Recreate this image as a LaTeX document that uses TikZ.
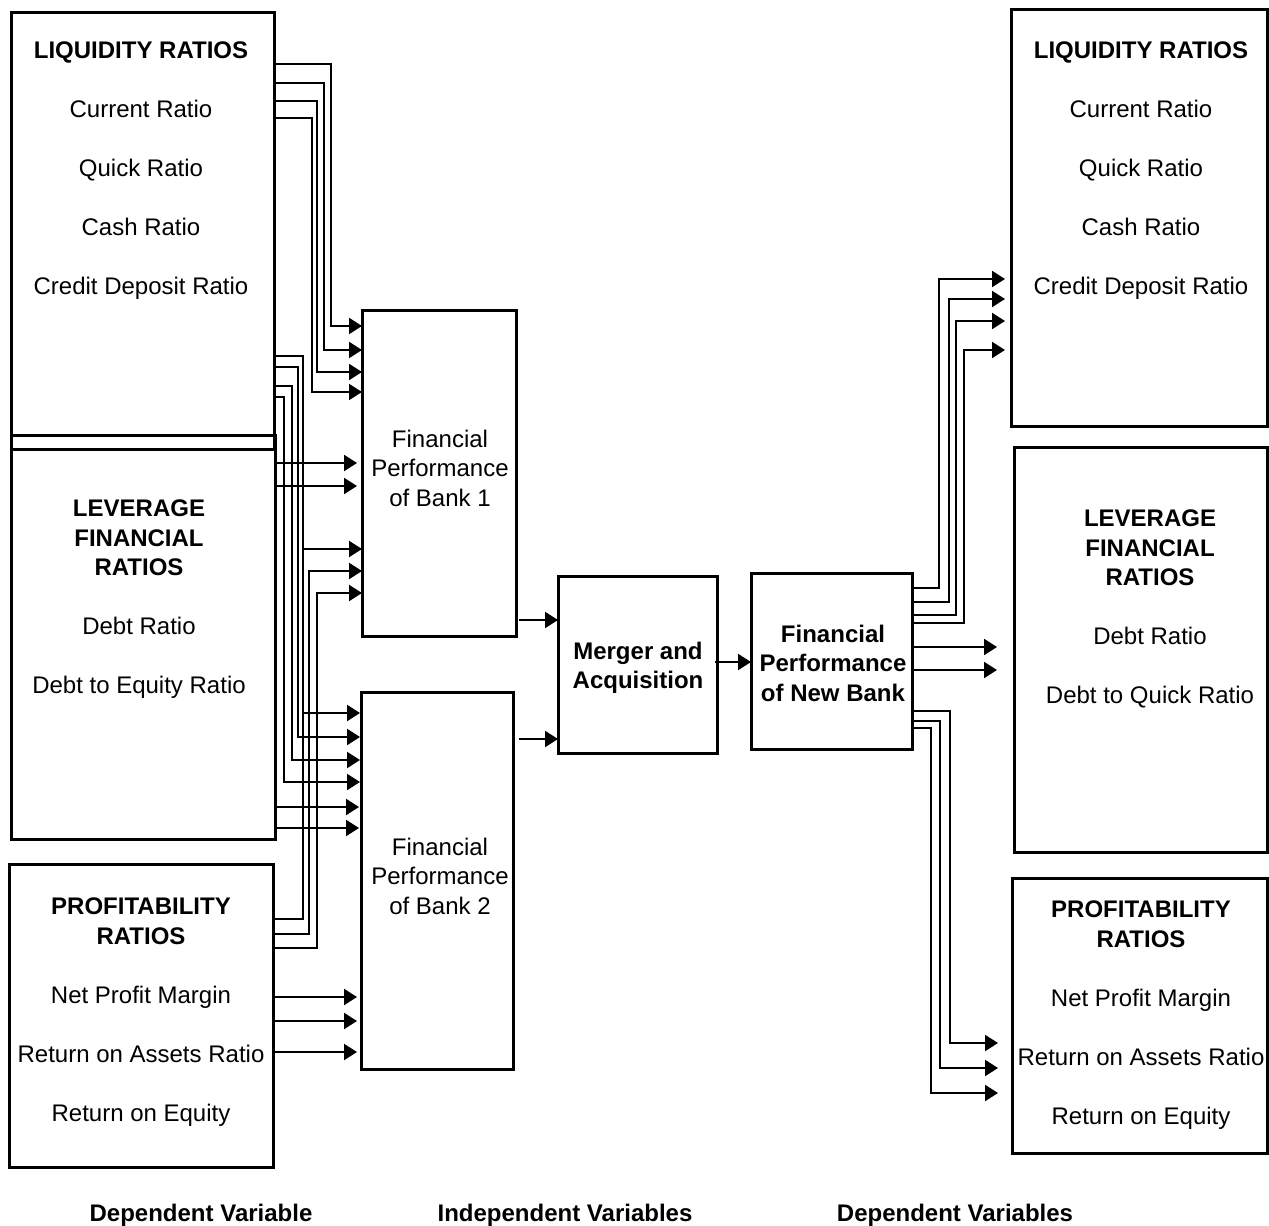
\documentclass[tikz,border=0pt]{standalone}
\usepackage{fontspec}
\setmainfont{Liberation Sans}
\newcommand\hd{\bfseries}
\usetikzlibrary{arrows.meta,fit}

\begin{document}
\begin{tikzpicture}[x=0.5pt,y=-0.5pt,
  box/.style={draw,line width=1.5pt,inner sep=0pt,outer sep=0pt},
  txt/.style={font=\fontsize{12}{14.75}\selectfont,align=center,inner sep=0pt,anchor=north},
  conn/.style={line width=1.1pt,-{Triangle[length=6.5pt,width=8pt]}}]
\useasboundingbox (0,0) rectangle (1269,1226);

% left-hand ratio groups
\node[box,fit={(11,12)(274,449)}] (L1) {};
\node[box,fit={(11,435)(275,839)}] (L2) {};
\node[box,fit={(9,864)(273,1167)}] (L3) {};
% the two banks, the merger, the new bank
\node[box,fit={(362,310)(516,636)}] (B1) {};
\node[box,fit={(361,692)(513,1069)}] (B2) {};
\node[box,fit={(558,576)(717,753)}] (MA) {};
\node[box,fit={(751,573)(912,749)}] (NB) {};
% right-hand ratio groups
\node[box,fit={(1011,9)(1267,426)}] (R1) {};
\node[box,fit={(1014,447)(1267,852)}] (R2) {};
\node[box,fit={(1012,878)(1267,1153)}] (R3) {};

% box texts
\node[txt] (L1t) at (141,41.4) {{\hd LIQUIDITY RATIOS}\\[14.75pt]Current Ratio\\[14.75pt]Quick Ratio\\[14.75pt]Cash Ratio\\[14.75pt]Credit Deposit Ratio};
\node[txt] (L2t) at (139,499.4) {{\hd LEVERAGE}\\{\hd FINANCIAL}\\{\hd RATIOS}\\[14.75pt]Debt Ratio\\[14.75pt]Debt to Equity Ratio};
\node[txt] (L3t) at (141,897.4) {{\hd PROFITABILITY}\\{\hd RATIOS}\\[14.75pt]Net Profit Margin\\[14.75pt]Return on Assets Ratio\\[14.75pt]Return on Equity};
\node[txt] (B1t) at (440,429.4) {Financial\\Performance\\of Bank 1};
\node[txt] (B2t) at (440,837.4) {Financial\\Performance\\of Bank 2};
\node[txt] (MAt) at (638,641.4) {\hd Merger and\\\hd Acquisition};
\node[txt] (NBt) at (833,624.4) {\hd Financial\\\hd Performance\\\hd of New Bank};
\node[txt] (R1t) at (1141,41.4) {{\hd LIQUIDITY RATIOS}\\[14.75pt]Current Ratio\\[14.75pt]Quick Ratio\\[14.75pt]Cash Ratio\\[14.75pt]Credit Deposit Ratio};
\node[txt] (R2t) at (1150,509.4) {{\hd LEVERAGE}\\{\hd FINANCIAL}\\{\hd RATIOS}\\[14.75pt]Debt Ratio\\[14.75pt]Debt to Quick Ratio};
\node[txt] (R3t) at (1141,900.4) {{\hd PROFITABILITY}\\{\hd RATIOS}\\[14.75pt]Net Profit Margin\\[14.75pt]Return on Assets Ratio\\[14.75pt]Return on Equity};

% column captions
\node[txt] (cap1) at (201,1203.4) {\hd Dependent Variable};
\node[txt] (cap2) at (565,1203.4) {\hd Independent Variables};
\node[txt] (cap3) at (955,1203.4) {\hd Dependent Variables};

% liquidity -> bank 1
\foreach \ys/\xb/\ye in {64/331/326, 83/324/350, 101/317/372, 118/312/392}
  \draw[conn] (L1.east |- 0,\ys) -| (\xb,\ye) -- (B1.west |- 0,\ye);
% liquidity -> bank 2
\foreach \ys/\xb/\ye in {356/303/713, 367/298/737, 386/292/760, 397/284/782}
  \draw[conn,shorten >=0.5pt] (L1.east |- 0,\ys) -| (\xb,\ye) -- (B2.west |- 0,\ye);
% leverage -> bank 1 and bank 2
\foreach \y in {463,486}
  \draw[conn,shorten >=2.5pt] (L2.east |- 0,\y) -- (B1.west |- 0,\y);
\foreach \y in {807,828}
  \draw[conn,shorten >=1pt] (L2.east |- 0,\y) -- (B2.west |- 0,\y);
% profitability -> bank 1
\foreach \ys/\xb/\ye in {919/303/549, 934/309/571, 948/317/593}
  \draw[conn] (L3.east |- 0,\ys) -| (\xb,\ye) -- (B1.west |- 0,\ye);
% profitability -> bank 2
\foreach \y in {997,1021,1052}
  \draw[conn,shorten >=2pt] (L3.east |- 0,\y) -- (B2.west |- 0,\y);

% banks -> merger -> new bank
\draw[conn,shorten <=1.5pt] (B1.east |- 0,620) -- (MA.west |- 0,620);
\draw[conn,shorten <=3pt] (B2.east |- 0,739) -- (MA.west |- 0,739);
\draw[conn,shorten <=-1pt] (MA.east |- 0,662) -- (NB.west |- 0,662);

% new bank -> liquidity
\foreach \ys/\xb/\ye in {588/939/279, 602/949/299, 615/956/321, 623/964/350}
  \draw[conn,shorten >=3pt] (NB.east |- 0,\ys) -| (\xb,\ye) -- (R1.west |- 0,\ye);
% new bank -> leverage
\foreach \y in {647,670}
  \draw[conn,shorten >=8.5pt] (NB.east |- 0,\y) -- (R2.west |- 0,\y);
% new bank -> profitability
\foreach \ys/\xb/\ye in {711/950/1043, 721/940/1068, 728/931/1093}
  \draw[conn,shorten >=7pt] (NB.east |- 0,\ys) -| (\xb,\ye) -- (R3.west |- 0,\ye);
\end{tikzpicture}
\end{document}
